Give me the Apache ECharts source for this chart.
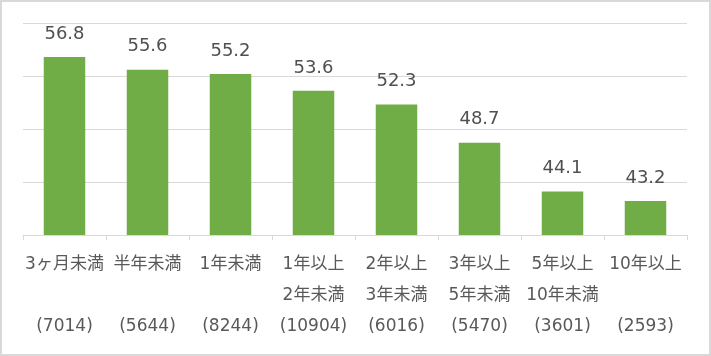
<!DOCTYPE html>
<html><head><meta charset="utf-8">
<script src="https://cdn.jsdelivr.net/npm/echarts@6/dist/echarts.min.js"></script>
<style>html,body{margin:0;padding:0;background:#fff}#c{width:711px;height:356px}</style>
</head><body><div id="c"></div>
<script>
const categories = ["3ヶ月未満", "半年未満", "1年未満", "1年以上\n2年未満", "2年以上\n3年未満", "3年以上\n5年未満", "5年以上\n10年未満", "10年以上"];
const counts = ["7014", "5644", "8244", "10904", "6016", "5470", "3601", "2593"];
const values = [56.8, 55.6, 55.2, 53.6, 52.3, 48.7, 44.1, 43.2];

const labels = categories.map((c, i) => (c.indexOf("\n") >= 0 ? c : c + "\n ") + "\n(" + counts[i] + ")");
const font = '"DejaVu Sans", "Noto Sans CJK JP", sans-serif';
const chart = echarts.init(document.getElementById('c'), null, {renderer: 'canvas'});
chart.setOption({
  animation: false,
  backgroundColor: '#fff',
  graphic: [{type: 'rect', shape: {x: 1, y: 1, width: 709, height: 354}, style: {fill: 'none', stroke: '#d9d9d9', lineWidth: 2}, silent: true}],
  grid: {left: 23, right: 24, top: 23, bottom: 121},
  xAxis: {
    type: 'category', data: labels,
    axisLine: {lineStyle: {color: '#d9d9d9', width: 1}},
    axisTick: {show: true, length: 5, lineStyle: {color: '#d9d9d9'}},
    axisLabel: {color: '#595959', fontSize: 17, fontFamily: font, lineHeight: 31, margin: 14, interval: 0}
  },
  yAxis: {
    type: 'value', min: 40, max: 60, interval: 5,
    axisLabel: {show: false}, axisLine: {show: false}, axisTick: {show: false},
    splitLine: {lineStyle: {color: '#d9d9d9', width: 1}}
  },
  series: [{
    type: 'bar', data: values, barCategoryGap: '50%',
    itemStyle: {color: '#70AD47'},
    label: {show: true, position: 'top', distance: 14, color: '#505050', fontSize: 18, fontFamily: font,
      formatter: p => p.value.toFixed(1)}
  }]
});
</script></body></html>
